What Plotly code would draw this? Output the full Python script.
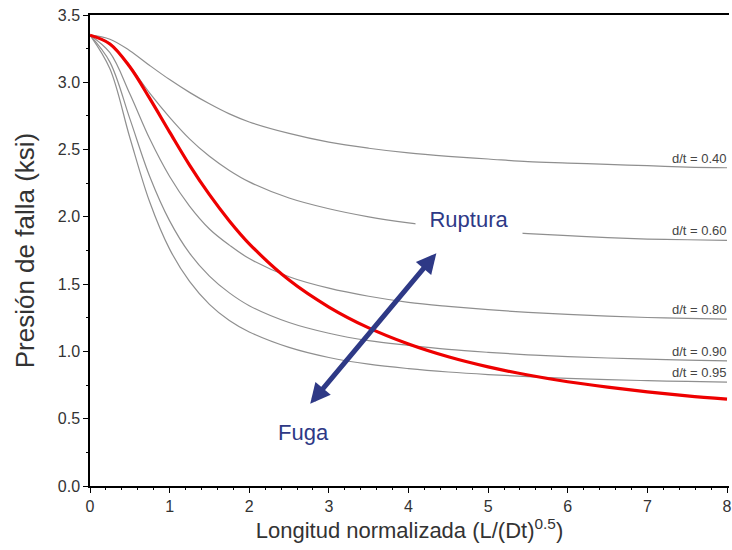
import plotly.graph_objects as go

# normalized length L/(Dt)^0.5
x = [0, 0.25, 0.5, 0.75, 1, 1.25, 1.5, 1.75, 2, 2.5, 3, 3.5, 4, 4.5, 5, 5.5, 6, 6.5, 7, 7.5, 8]

# failure pressure (ksi) for each d/t ratio
d040 = [3.35, 3.32, 3.235, 3.125, 3.02, 2.925, 2.84, 2.765, 2.705, 2.62, 2.555, 2.51, 2.475, 2.45, 2.43, 2.41, 2.40, 2.39, 2.38, 2.37, 2.365]
d060 = [3.35, 3.29, 3.12, 2.92, 2.74, 2.58, 2.45, 2.345, 2.26, 2.14, 2.06, 2.00, 1.955, 1.92, 1.895, 1.875, 1.86, 1.845, 1.835, 1.83, 1.825]
d080 = [3.35, 3.22, 2.915, 2.58, 2.30, 2.08, 1.91, 1.79, 1.69, 1.555, 1.47, 1.41, 1.365, 1.335, 1.31, 1.29, 1.275, 1.262, 1.252, 1.245, 1.24]
d090 = [3.35, 3.15, 2.73, 2.30, 1.97, 1.73, 1.56, 1.435, 1.34, 1.215, 1.135, 1.08, 1.045, 1.015, 0.993, 0.975, 0.962, 0.951, 0.943, 0.936, 0.93]
d095 = [3.35, 3.10, 2.59, 2.11, 1.76, 1.52, 1.35, 1.23, 1.145, 1.03, 0.955, 0.905, 0.872, 0.847, 0.828, 0.813, 0.80, 0.79, 0.783, 0.777, 0.772]
# leak / rupture boundary
boundary = [3.35, 3.285, 3.115, 2.88, 2.63, 2.385, 2.165, 1.97, 1.80, 1.53, 1.33, 1.175, 1.055, 0.96, 0.885, 0.825, 0.775, 0.735, 0.70, 0.67, 0.645]

labels = ["d/t = 0.40", "d/t = 0.60", "d/t = 0.80", "d/t = 0.90", "d/t = 0.95"]
series = [d040, d060, d080, d090, d095]

x_ticks = [0, 1, 2, 3, 4, 5, 6, 7, 8]
y_ticks = [0.0, 0.5, 1.0, 1.5, 2.0, 2.5, 3.0, 3.5]

GREY = "#8f8f8f"
RED = "#ee0000"
NAVY = "#2e3986"
FONT = "Liberation Sans, Arial, sans-serif"

fig = go.Figure()
for name, ys in zip(labels, series):
    fig.add_trace(go.Scatter(x=x, y=ys, mode="lines", name=name,
                             line=dict(color=GREY, width=1.2, shape="spline", smoothing=1.0),
                             hoverinfo="skip"))
fig.add_trace(go.Scatter(x=x, y=boundary, mode="lines", name="Fuga/Ruptura",
                         line=dict(color=RED, width=3.2, shape="spline", smoothing=1.0),
                         hoverinfo="skip"))

annotations = []
for name, ys in zip(labels, series):
    annotations.append(dict(x=8.02, y=ys[-1], xref="x", yref="y", text=name,
                            showarrow=False, xanchor="right", yanchor="bottom",
                            font=dict(family=FONT, size=13, color="#444444")))

# double-headed arrow
annotations.append(dict(x=4.35, y=1.73, ax=2.75, ay=0.60, xref="x", yref="y",
                        axref="x", ayref="y", text="", showarrow=True,
                        arrowside="end+start", arrowhead=2, startarrowhead=2,
                        arrowsize=0.8, startarrowsize=0.8, arrowwidth=5,
                        arrowcolor=NAVY, standoff=0, startstandoff=0))
annotations.append(dict(x=4.76, y=1.984, xref="x", yref="y", text="Ruptura",
                        showarrow=False, bgcolor="white", width=104, height=30,
                        font=dict(family=FONT, size=22, color=NAVY)))
annotations.append(dict(x=2.675, y=0.40, xref="x", yref="y", text="Fuga",
                        showarrow=False,
                        font=dict(family=FONT, size=22, color=NAVY)))

fig.update_layout(
    width=732, height=550,
    margin=dict(l=90, r=0, t=15, b=64),
    paper_bgcolor="white", plot_bgcolor="white",
    showlegend=False,
    font=dict(family=FONT, color="#333333"),
    annotations=annotations,
    xaxis=dict(range=[0, 8.025], tickmode="array", tickvals=x_ticks,
               ticktext=[str(v) for v in x_ticks],
               ticklabeloverflow="allow",
               showgrid=False, zeroline=False,
               showline=True, linecolor="black", linewidth=1.5, mirror=True,
               ticks="outside", ticklen=5, tickwidth=1.2, tickcolor="black",
               tickfont=dict(family=FONT, size=16, color="#333333"),
               minor=dict(dtick=0.2, ticks="outside", ticklen=2.5, tickcolor="black", tickwidth=1),
               title=dict(text="Longitud normalizada (L/(Dt)<sup>0.5</sup>)",
                          font=dict(family=FONT, size=22, color="#333333"), standoff=9)),
    yaxis=dict(range=[0, 3.5], tickmode="array", tickvals=y_ticks,
               ticktext=[f"{v:.1f}" for v in y_ticks],
               showgrid=False, zeroline=False,
               showline=True, linecolor="black", linewidth=1.5,
               ticks="outside", ticklen=5, tickwidth=1.2, tickcolor="black",
               tickfont=dict(family=FONT, size=16, color="#333333"),
               minor=dict(dtick=0.25, ticks="outside", ticklen=2.5, tickcolor="black", tickwidth=1),
               title=dict(text="Presión de falla (ksi)",
                          font=dict(family=FONT, size=26, color="#333333"), standoff=16)),
)

fig.write_html("out.html")
